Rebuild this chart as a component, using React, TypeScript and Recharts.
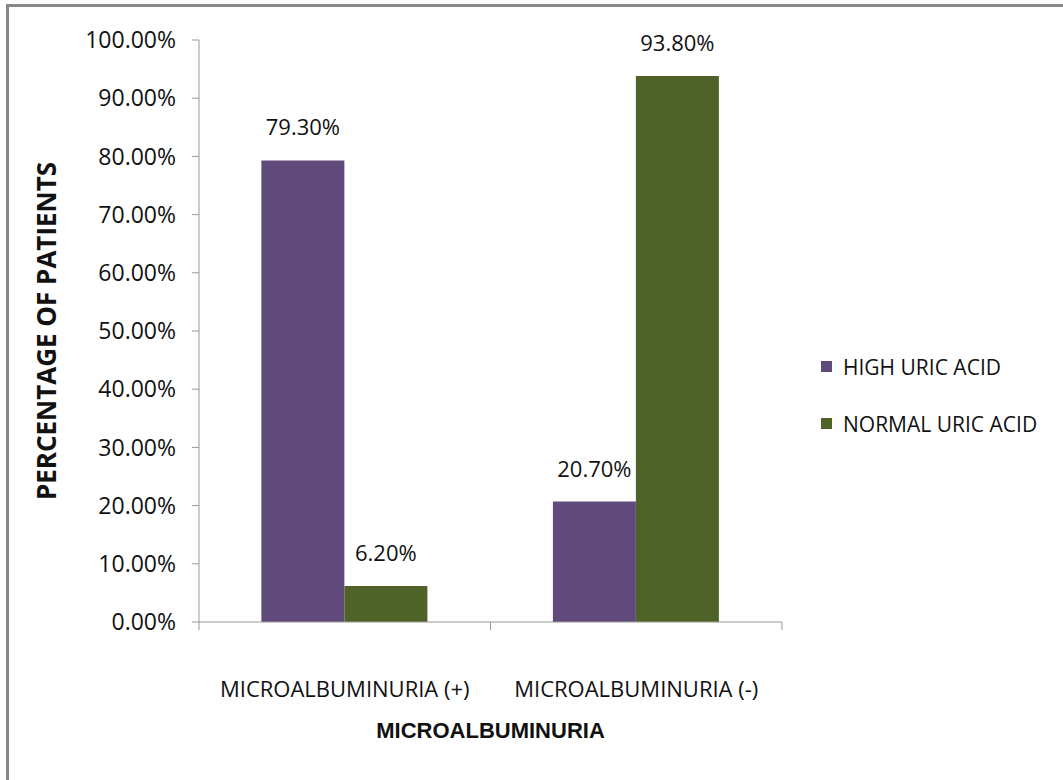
import { Bar, BarChart, LabelList, Legend, XAxis, YAxis, Label } from 'recharts';

const categories = ['MICROALBUMINURIA (+)', 'MICROALBUMINURIA (-)'];
const highUricAcid = [79.3, 20.7];
const normalUricAcid = [6.2, 93.8];
const yTicks = [0, 10, 20, 30, 40, 50, 60, 70, 80, 90, 100];

const data = categories.map((name, i) => ({
  name,
  high: highUricAcid[i],
  normal: normalUricAcid[i],
}));

const font = "'Open Sans', sans-serif";
const boldFont = "'Liberation Sans', Arial, sans-serif";

// half of one category band: (1063 - 199 - 281) / 2 / 2
const HALF_BAND = 145.75;

const CategoryTick = (props: any) => {
  const { x, y, payload, index } = props;
  return (
    <g>
      {index === 0 && <line x1={x - HALF_BAND} x2={x - HALF_BAND} y1={y - 8} y2={y} stroke="#999" />}
      <line x1={x + HALF_BAND} x2={x + HALF_BAND} y1={y - 8} y2={y} stroke="#999" />
      <text x={x} y={y + 67} textAnchor="middle" fill="#111" fontSize={22} fontFamily={font}>
        {payload.value}
      </text>
    </g>
  );
};

const renderLegend = (props: any) => (
  <div style={{ fontFamily: font, fontSize: 21, color: '#111' }}>
    {props.payload.map((p: any) => (
      <div key={p.value} style={{ display: 'flex', alignItems: 'center', height: 57 }}>
        <span style={{ width: 11, height: 11, background: p.color, marginRight: 11, display: 'inline-block' }} />
        {p.value}
      </div>
    ))}
  </div>
);

export default function App() {
  return (
    <div style={{ position: 'absolute', left: 0, top: 0, width: 1063, height: 780, background: '#fff' }}>
      <div
        style={{
          position: 'absolute',
          left: 6,
          top: 4,
          width: 1100,
          height: 820,
          borderLeft: '3px solid #888',
          borderTop: '3px solid #888',
        }}
      />
      <BarChart
        width={1063}
        height={780}
        data={data}
        margin={{ top: 40, right: 281, bottom: 0, left: 0 }}
        barCategoryGap="21.4%"
        barGap={0}
        style={{ position: 'absolute', left: 0, top: 0 }}
      >
        <XAxis
          dataKey="name"
          height={158}
          stroke="#999"
          tickLine={false}
          tick={<CategoryTick />}
          interval={0}
        >
          <Label
            value="MICROALBUMINURIA"
            position="insideBottom"
            offset={42}
            style={{ fill: '#111', fontSize: 22, fontWeight: 'bold', fontFamily: boldFont }}
          />
        </XAxis>
        <YAxis
          width={199}
          domain={[0, 100]}
          ticks={yTicks}
          interval={0}
          stroke="#999"
          tickSize={7}
          tickMargin={16}
          tick={{ fill: '#111', fontSize: 23, fontFamily: font }}
          tickFormatter={(v: number) => `${v.toFixed(2)}%`}
        >
          <Label
            value="PERCENTAGE OF PATIENTS"
            angle={-90}
            position="insideLeft"
            offset={47}
            style={{ fill: '#111', fontSize: 26, fontWeight: 'bold', fontFamily: font, textAnchor: 'middle' }}
          />
        </YAxis>
        <Legend
          layout="vertical"
          align="center"
          verticalAlign="middle"
          content={renderLegend}
          wrapperStyle={{ left: 821, top: 338, width: 240 }}
        />
        <Bar dataKey="high" name="HIGH URIC ACID" fill="#604a7b" isAnimationActive={false}>
          <LabelList
            dataKey="high"
            position="top"
            offset={25}
            formatter={(v: any) => `${Number(v).toFixed(2)}%`}
            style={{ fill: '#111', fontSize: 22, fontFamily: font }}
          />
        </Bar>
        <Bar dataKey="normal" name="NORMAL URIC ACID" fill="#4f6228" isAnimationActive={false}>
          <LabelList
            dataKey="normal"
            position="top"
            offset={25}
            formatter={(v: any) => `${Number(v).toFixed(2)}%`}
            style={{ fill: '#111', fontSize: 22, fontFamily: font }}
          />
        </Bar>
      </BarChart>
    </div>
  );
}
